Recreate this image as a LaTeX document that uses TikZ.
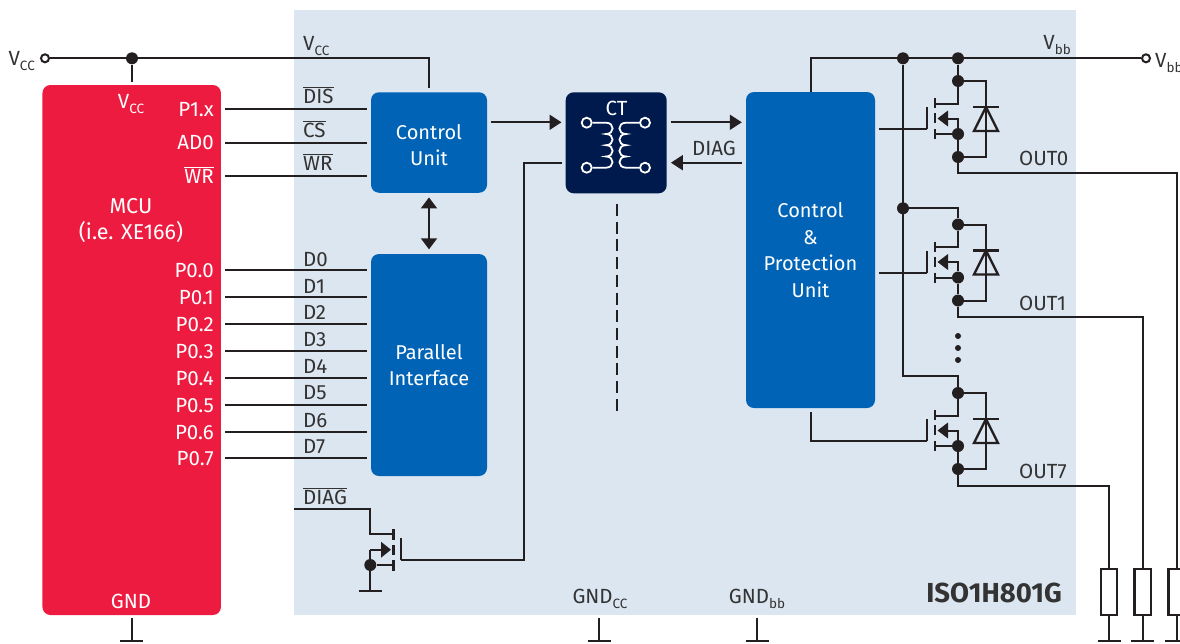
\documentclass[tikz,border=0pt]{standalone}
\usepackage{fontspec}
\setmainfont{Fira Sans}
\usepackage{tikz}
\usetikzlibrary{arrows.meta}
\usetikzlibrary{calc}

\definecolor{isoback}{HTML}{DCE6F1}
\definecolor{mcured}{HTML}{EE1B41}
\definecolor{blockblue}{HTML}{0063B5}
\definecolor{ctnavy}{HTML}{001A4D}
\definecolor{wirek}{HTML}{231F20}
\definecolor{textk}{HTML}{333333}

\newcommand{\subs}[1]{\raisebox{-5pt}{\fontsize{13.5}{13.5}\selectfont #1}}
\newcommand{\ovl}[1]{$\overline{\hbox{#1}}$}

\tikzset{
	wire/.style={draw=wirek,line width=2pt},
	gatebar/.style={draw=wirek,line width=2.8pt},
	arrowwire/.style={wire,-{Triangle[length=12pt,width=15pt]}},
	dot/.style={circle,fill=wirek,inner sep=0pt,minimum size=12pt},
	smalldot/.style={circle,fill=wirek,inner sep=0pt,minimum size=6pt},
	term/.style={circle,draw=wirek,fill=white,line width=2pt,inner sep=0pt,minimum size=8pt},
	ctterm/.style={circle,draw=white,fill=ctnavy,line width=1.8pt,inner sep=0pt,minimum size=10pt},
	block/.style={rounded corners=8pt,inner sep=0pt,text=white,align=center,font=\fontsize{20}{26.5}\selectfont},
	bluebox/.style={block,fill=blockblue,minimum width=116pt},
	lbl/.style={inner sep=0pt,text=textk,text height=14pt,text depth=0pt,font=\fontsize{20.5}{24}\selectfont},
	pin/.style={lbl,text=white,anchor=east},
	sig/.style={lbl,anchor=west},
	coilr/.style={out=0,in=0,looseness=2},
	coill/.style={out=180,in=180,looseness=2},
}

% one output stage: name, x and y of the upper dot
\newcommand{\highside}[3]{
	\node[dot] (#1top) at (#2,#3) {};
	\node[dot] (#1src) at (#2,#3+53) {};
	\node[dot] (#1out) at (#2,#3+76) {};
	\coordinate (#1gate) at (#2-31,#3+48);
	\draw[wire] (#1top) -- ++(0,22.5) -- ++(-23,0);
	\draw[wire] (#1src) -- ++(-23,0);
	\draw[wire] (#1src) -- ++(0,-15.5) -- ++(-12,0);
	\draw[wire] (#1src) -- (#1out);
	\draw[gatebar] (#2-23,#3+17) -- (#2-23,#3+27);
	\draw[gatebar] (#2-23,#3+32) -- (#2-23,#3+42);
	\draw[gatebar] (#2-23,#3+48) -- (#2-23,#3+58);
	\draw[gatebar] (#1gate) -- (#2-31,#3+26);
	\fill[wirek] (#2-20.5,#3+37.5) -- (#2-10,#3+29.5) -- (#2-10,#3+45.5) -- cycle;
	% diode
	\draw[wire] (#1top) -- ++(28,0) -- ++(0,76) -- (#1out);
	\draw[gatebar] (#2+15,#3+26) -- (#2+41,#3+26);
	\draw[wire,line width=2.4pt] (#2+28,#3+26) -- (#2+16,#3+50) -- (#2+40,#3+50) -- cycle;
}

\begin{document}
\begin{tikzpicture}[x=1pt,y=-1pt]
	\useasboundingbox (0,0) rectangle (1180,643);
	\fill[isoback] (294,10) rectangle (1076,615);
	%%%%%%%%%%%%%%%
	\node[block,fill=mcured,minimum width=178.5pt,minimum height=530pt] (mcu) at (131.7,350) {};
	\node[bluebox,minimum height=100.5pt] (control) at (429,142.5) {\rule{0pt}{20pt}Control\\Unit};
	\node[bluebox,minimum height=222pt] (parallel) at (429,365) {Parallel\\Interface};
	\node[block,fill=ctnavy,minimum width=101pt,minimum height=101pt] (ct) at (616.2,142.8) {};
	\node[block,fill=blockblue,minimum width=129pt,minimum height=316pt] (protect) at (810.5,250) {Control\\\&\\Protection\\Unit};
	%%%%%%%%%%%%%%%
	\node[lbl,text=white] (mcutext) at (131,219) {\parbox{130pt}{\centering\fontsize{21.5}{26}\selectfont MCU\\(i.e. XE166)}};
	\node[lbl,text=white] (mcuvcc) at (131,101) {V\subs{CC}};
	\node[lbl,text=white] (mcugnd) at (131,601) {GND};
	%%%%%%%%%%%%%%%
	% supply rails
	\node[term] (vccin) at (45,58.3) {};
	\node[lbl,anchor=east] (vcctext) at (35,58) {V\subs{CC}};
	\node[dot] (vccdot) at (132,58.3) {};
	\node[sig] (vccinner) at (303,43) {V\subs{CC}};
	\coordinate (vcctop) at (control.north |- vccdot);
	\draw[wire] (vccin) -- (vccdot) -- (vcctop) -- ([yshift=4pt]control.north);
	\draw[wire] (vccdot) -- (vccdot |- 0,82);
	\node[dot] (busdot) at (903,58.3) {};
	\node[dot] (railone) at (958,58.3) {};
	\node[term] (vbbout) at (1146,58.3) {};
	\node[sig] (vbbtext) at (1155,60) {V\subs{bb}};
	\node[lbl,anchor=east] (vbbinner) at (1071,42) {V\subs{bb}};
	\draw[wire] (protect.north) -- (protect.north |- busdot) -- (busdot) -- (railone) -- (vbbout);
	%%%%%%%%%%%%%%%
	% control lines
	\node[pin] (pone) at (214,109) {P1.x};
	\node[pin] (adzero) at (214,142.7) {AD0};
	\node[pin] (wrpin) at (214,176) {\ovl{WR}};
	\node[sig] (distext) at (303,96) {\ovl{DIS}};
	\node[sig] (cstext) at (303,130) {\ovl{CS}};
	\node[sig] (wrtext) at (303,163) {\ovl{WR}};
	\draw[wire,shorten <=11pt,shorten >=4pt] (pone.east) -- (pone.east -| control.west);
	\draw[wire,shorten <=11pt,shorten >=4pt] (adzero.east) -- (adzero.east -| control.west);
	\draw[wire,shorten <=11pt,shorten >=4pt] (wrpin.east) -- (wrpin.east -| control.west);
	\draw[wire,{Triangle[length=11pt,width=16pt]}-{Triangle[length=11pt,width=16pt]}] ([yshift=-4.5pt]control.south) -- ([yshift=4.5pt]parallel.north);
	%%%%%%%%%%%%%%%
	% data lines
	\node[pin] (pzero) at (214,270) {P0.0};
	\node[pin] (pzone) at (214,297) {P0.1};
	\node[pin] (pztwo) at (214,324) {P0.2};
	\node[pin] (pzthree) at (214,351) {P0.3};
	\node[pin] (pzfour) at (214,378) {P0.4};
	\node[pin] (pzfive) at (214,405) {P0.5};
	\node[pin] (pzsix) at (214,432) {P0.6};
	\node[pin] (pzseven) at (214,458) {P0.7};
	\node[sig] (dzero) at (303,259) {D0};
	\node[sig] (done) at (303,286) {D1};
	\node[sig] (dtwo) at (303,312) {D2};
	\node[sig] (dthree) at (303,339) {D3};
	\node[sig] (dfour) at (303,366) {D4};
	\node[sig] (dfive) at (303,392) {D5};
	\node[sig] (dsix) at (303,420) {D6};
	\node[sig] (dseven) at (303,446) {D7};
	\draw[wire,shorten <=11pt,shorten >=4pt] (pzero.east) -- (pzero.east -| parallel.west);
	\draw[wire,shorten <=11pt,shorten >=4pt] (pzone.east) -- (pzone.east -| parallel.west);
	\draw[wire,shorten <=11pt,shorten >=4pt] (pztwo.east) -- (pztwo.east -| parallel.west);
	\draw[wire,shorten <=11pt,shorten >=4pt] (pzthree.east) -- (pzthree.east -| parallel.west);
	\draw[wire,shorten <=11pt,shorten >=4pt] (pzfour.east) -- (pzfour.east -| parallel.west);
	\draw[wire,shorten <=11pt,shorten >=4pt] (pzfive.east) -- (pzfive.east -| parallel.west);
	\draw[wire,shorten <=11pt,shorten >=4pt] (pzsix.east) -- (pzsix.east -| parallel.west);
	\draw[wire,shorten <=11pt,shorten >=4pt] (pzseven.east) -- (pzseven.east -| parallel.west);
	%%%%%%%%%%%%%%%
	% coreless transformer
	\node[lbl,text=white] (cttext) at (616.5,108) {CT};
	\node[ctterm] (cta) at (586.7,122.7) {};
	\node[ctterm] (ctb) at (586.7,167.7) {};
	\node[ctterm] (ctc) at (645,122.7) {};
	\node[ctterm] (ctd) at (645,167.7) {};
	\draw[draw=white,line width=1.8pt] (cta) -- (606,122.7) to[coilr] (606,134) to[coilr] (606,145.2) to[coilr] (606,156.5) to[coilr] (606,167.7) -- (ctb);
	\draw[draw=white,line width=1.8pt] (ctc) -- (626,122.7) to[coill] (626,134) to[coill] (626,145.2) to[coill] (626,156.5) to[coill] (626,167.7) -- (ctd);
	\coordinate (ctin) at ([xshift=-4pt]ct.west |- 0,122.3);
	\coordinate (ctout) at ([xshift=4pt]ct.east |- 0,122.3);
	\draw[arrowwire] ([xshift=4pt]control.east |- ctin) -- (ctin);
	\draw[arrowwire] (ctout) -- ([xshift=-4pt]protect.west |- ctout);
	\draw[arrowwire] ([xshift=-4pt]protect.west |- 0,162.7) -- ([xshift=4pt]ct.east |- 0,162.7);
	\node[lbl] (diagtext) at (714,148) {DIAG};
	\coordinate (dasha) at (617,204);
	\coordinate (dashb) at (617,412);
	\draw[wire,dash pattern=on 12pt off 5.7pt] (dasha) -- (dashb);
	%%%%%%%%%%%%%%%
	% diag output transistor
	\node[sig] (diagbar) at (303,497) {\ovl{DIAG}};
	\coordinate (diagin) at (294,509.3);
	\node[dot] (fetsrc) at (370.3,565) {};
	\coordinate (fetgnd) at (370.3,591);
	\coordinate (fetgate) at (401,560);
	\coordinate (ctback) at ([xshift=-4pt]ct.west |- 0,162.7);
	\draw[wire] (ctback) -- (524,162.7) -- (524,560) -- (fetgate);
	\draw[wire] (diagin) -- (370.3,509.3) -- (370.3,534) -- (393.3,534);
	\draw[wire] (fetsrc) -- (393.3,565);
	\draw[wire] (370.3,549.7) -- (381,549.7);
	\draw[wire] (370.3,549.7) -- (fetgnd);
	\draw[gatebar] (393.3,529) -- (393.3,540);
	\draw[gatebar] (393.3,545) -- (393.3,555);
	\draw[gatebar] (393.3,560) -- (393.3,571);
	\draw[gatebar] (fetgate) -- (401,538);
	\fill[wirek] (391,549.7) -- (381,541.7) -- (381,557.7) -- cycle;
	\draw[gatebar] ($(fetgnd)+(-11.5,0)$) -- ($(fetgnd)+(11.5,0)$);
	%%%%%%%%%%%%%%%
	% output stages
	\highside{sone}{958}{81}
	\highside{stwo}{958}{224.5}
	\highside{sthree}{958}{393}
	\node[dot] (bustwo) at (903,208.3) {};
	\coordinate (buscorner) at (903,376);
	\draw[wire] (busdot) -- (buscorner) -- (buscorner -| sthreetop) -- (sthreetop);
	\draw[wire] (bustwo) -- (bustwo -| stwotop) -- (stwotop);
	\draw[wire] (railone) -- (sonetop);
	\draw[wire] (protect.east |- sonegate) ++(4,0) -- (sonegate);
	\draw[wire] (protect.east |- stwogate) ++(4,0) -- (stwogate);
	\draw[wire] ([yshift=-4pt]protect.south) -- (protect.south |- sthreegate) -- (sthreegate);
	\node[smalldot] (more) at (958,336) {};
	\node[smalldot] (moreb) at (958,348) {};
	\node[smalldot] (morec) at (958,360) {};
	%%%%%%%%%%%%%%%
	% loads
	\node[draw=wirek,line width=2.4pt,fill=white,minimum width=16.5pt,minimum height=46pt,inner sep=0pt] (rzero) at (1176.7,592) {};
	\node[draw=wirek,line width=2.4pt,fill=white,minimum width=16.5pt,minimum height=46pt,inner sep=0pt] (rone) at (1142.7,592) {};
	\node[draw=wirek,line width=2.4pt,fill=white,minimum width=16.5pt,minimum height=46pt,inner sep=0pt] (rseven) at (1109,592) {};
	\node[sig] (outzero) at (1019,158) {OUT0};
	\node[sig] (outone) at (1019,303) {OUT1};
	\node[sig] (outseven) at (1019,471) {OUT7};
	\draw[wire] (soneout) -- (958,172.7) -- (rzero.north |- 0,172.7) -- (rzero.north);
	\draw[wire] (stwoout) -- (958,316.7) -- (rone.north |- 0,316.7) -- (rone.north);
	\draw[wire] (sthreeout) -- (958,485.5) -- (rseven.north |- 0,485.5) -- (rseven.north);
	\coordinate (gzero) at (1176.7,641);
	\coordinate (gone) at (1142.7,641);
	\coordinate (gseven) at (1109,641);
	\draw[wire] (rzero.south) -- (gzero);
	\draw[wire] (rone.south) -- (gone);
	\draw[wire] (rseven.south) -- (gseven);
	\draw[gatebar] ($(gzero)+(-11.5,0)$) -- ($(gzero)+(11.5,0)$);
	\draw[gatebar] ($(gone)+(-11.5,0)$) -- ($(gone)+(11.5,0)$);
	\draw[gatebar] ($(gseven)+(-11.5,0)$) -- ($(gseven)+(11.5,0)$);
	%%%%%%%%%%%%%%%
	% grounds
	\node[lbl] (gndcc) at (600,596) {GND\subs{CC}};
	\node[lbl] (gndbb) at (757,596) {GND\subs{bb}};
	\node[lbl,anchor=east,font=\fontsize{27.5}{30}\selectfont\bfseries] (isoname) at (1062,595.5) {ISO1H801G};
	\coordinate (gmcu) at (131.5,641);
	\coordinate (gcc) at (599,641);
	\coordinate (gbb) at (757,641);
	\draw[wire] (mcu.south -| gmcu) ++(0,3) -- (gmcu);
	\draw[wire] (599,618) -- (gcc);
	\draw[wire] (757,618) -- (gbb);
	\draw[gatebar] ($(gmcu)+(-11.5,0)$) -- ($(gmcu)+(11.5,0)$);
	\draw[gatebar] ($(gcc)+(-11.5,0)$) -- ($(gcc)+(11.5,0)$);
	\draw[gatebar] ($(gbb)+(-11.5,0)$) -- ($(gbb)+(11.5,0)$);
\end{tikzpicture}
\end{document}
